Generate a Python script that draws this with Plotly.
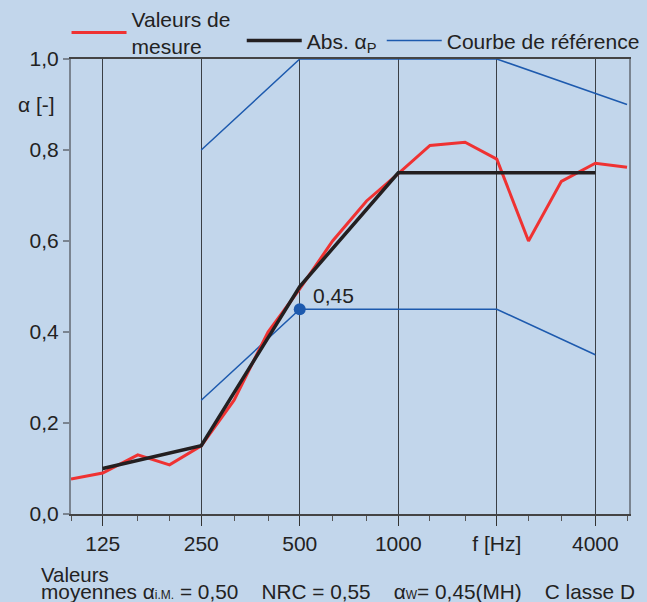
import math
import plotly.graph_objects as go

# Third-octave measured values
freq_third = [100, 125, 160, 200, 250, 315, 400, 500, 630, 800, 1000,
              1250, 1600, 2000, 2500, 3150, 4000, 5000]
alpha_measured = [0.077, 0.09, 0.13, 0.108, 0.15, 0.25, 0.40, 0.495, 0.60, 0.688,
                  0.748, 0.81, 0.817, 0.78, 0.60, 0.731, 0.771, 0.762]

# Octave practical absorption
freq_oct = [125, 250, 500, 1000, 2000, 4000]
alpha_p = [0.10, 0.15, 0.50, 0.75, 0.75, 0.75]

# Reference curve (unshifted and shifted)
ref_freq = [250, 500, 1000, 2000, 5000]
ref_values = [0.80, 1.00, 1.00, 1.00, 0.90]
ref_shift_freq = [250, 500, 1000, 2000, 4000]
ref_shift_values = [0.25, 0.45, 0.45, 0.45, 0.35]

# alpha_w point
aw_freq = [500]
aw_value = [0.45]
aw_label = "0,45"

x_tickvals = [125, 250, 500, 1000, 2000, 4000]
x_ticktext = ["125", "250", "500", "1000", "f [Hz]", "4000"]
x_minor = [100, 160, 200, 315, 400, 630, 800, 1250, 1600, 2500, 3150, 5000]
y_tickvals = [0, 0.2, 0.4, 0.6, 0.8, 1.0]
y_ticktext = ["0,0", "0,2", "0,4", "0,6", "0,8", "1,0"]

BG = "#c2d6eb"
RED = "#ef3232"
BLACK = "#231f20"
BLUE = "#1d5aae"
TXT = "#222222"
FONT = "Liberation Sans, Arial, sans-serif"

fig = go.Figure()
fig.add_trace(go.Scatter(x=ref_shift_freq, y=ref_shift_values, mode="lines",
                         line=dict(color=BLUE, width=1.5), showlegend=False))
fig.add_trace(go.Scatter(x=freq_third, y=alpha_measured, mode="lines",
                         line=dict(color=RED, width=3),
                         name="Valeurs de<br>mesure", legend="legend"))
fig.add_trace(go.Scatter(x=freq_oct, y=alpha_p, mode="lines",
                         line=dict(color=BLACK, width=3.5),
                         name="Abs. α<sub>P</sub>", legend="legend2", legendrank=1))
fig.add_trace(go.Scatter(x=ref_freq, y=ref_values, mode="lines",
                         line=dict(color=BLUE, width=1.5),
                         name="Courbe de référence", legend="legend2", legendrank=2))
fig.add_trace(go.Scatter(x=aw_freq, y=aw_value, mode="markers",
                         marker=dict(color=BLUE, size=12), showlegend=False))

fig.add_annotation(x=math.log10(aw_freq[0]), y=aw_value[0], xref="x", yref="y",
                   text=aw_label, showarrow=False, xanchor="left", yanchor="middle",
                   xshift=11, yshift=14, font=dict(size=21, color=TXT))
fig.add_annotation(x=0, y=0.9, xref="paper", yref="y", text="α [-]",
                   showarrow=False, xanchor="right", xshift=-14,
                   font=dict(size=21, color=TXT))
fig.add_annotation(x=-0.057, y=-0.133, xref="paper", yref="paper",
                   text="Valeurs", showarrow=False, xanchor="left", yanchor="middle",
                   font=dict(size=20.4, color=TXT))
SUB = "<span style='font-size:12px'>"
fig.add_annotation(x=-0.057, y=-0.170, xref="paper", yref="paper",
                   text="moyennes α" + SUB + "i.M.</span> = 0,50    NRC = 0,55    "
                        "α" + SUB + "W</span>= 0,45(MH)    C lasse D",
                   showarrow=False, xanchor="left", yanchor="middle",
                   font=dict(size=20.8, color=TXT))

legend_common = dict(orientation="h", xanchor="left", yanchor="middle",
                     bgcolor="rgba(0,0,0,0)", font=dict(size=21, color=TXT),
                     itemwidth=55, tracegroupgap=0, valign="middle")

fig.update_layout(
    width=647, height=602,
    margin=dict(l=71, r=18, t=59, b=88, autoexpand=False),
    paper_bgcolor=BG, plot_bgcolor=BG,
    font=dict(family=FONT, size=21, color=TXT),
    legend=dict(x=-0.008, y=1.058, **legend_common),
    legend2=dict(x=0.306, y=1.040, **legend_common),
    xaxis=dict(type="log", range=[2, 3.705], tickvals=x_tickvals, ticktext=x_ticktext,
               ticks="outside", ticklen=10, tickcolor="#333", tickwidth=1.2,
               showgrid=True, gridcolor="#3a3f46", gridwidth=1.2,
               showline=True, linecolor="#444", linewidth=1.5, mirror=True,
               zeroline=False, tickfont=dict(size=21, color=TXT),
               minor=dict(tickvals=x_minor, ticks="outside", ticklen=5,
                          tickcolor="#555", showgrid=False)),
    yaxis=dict(range=[0, 1], tickvals=y_tickvals, ticktext=y_ticktext,
               ticks="outside", ticklen=6, tickcolor="#7a8490", tickwidth=1.5,
               showgrid=False, zeroline=False, tickfont=dict(size=21, color=TXT),
               showline=True, linecolor="#7a8490", linewidth=2, mirror=True),
)

fig.write_html("out.html",
               config={"displayModeBar": False},
               post_script="document.body.style.margin='0';"
                           "document.body.style.background='" + BG + "';")
